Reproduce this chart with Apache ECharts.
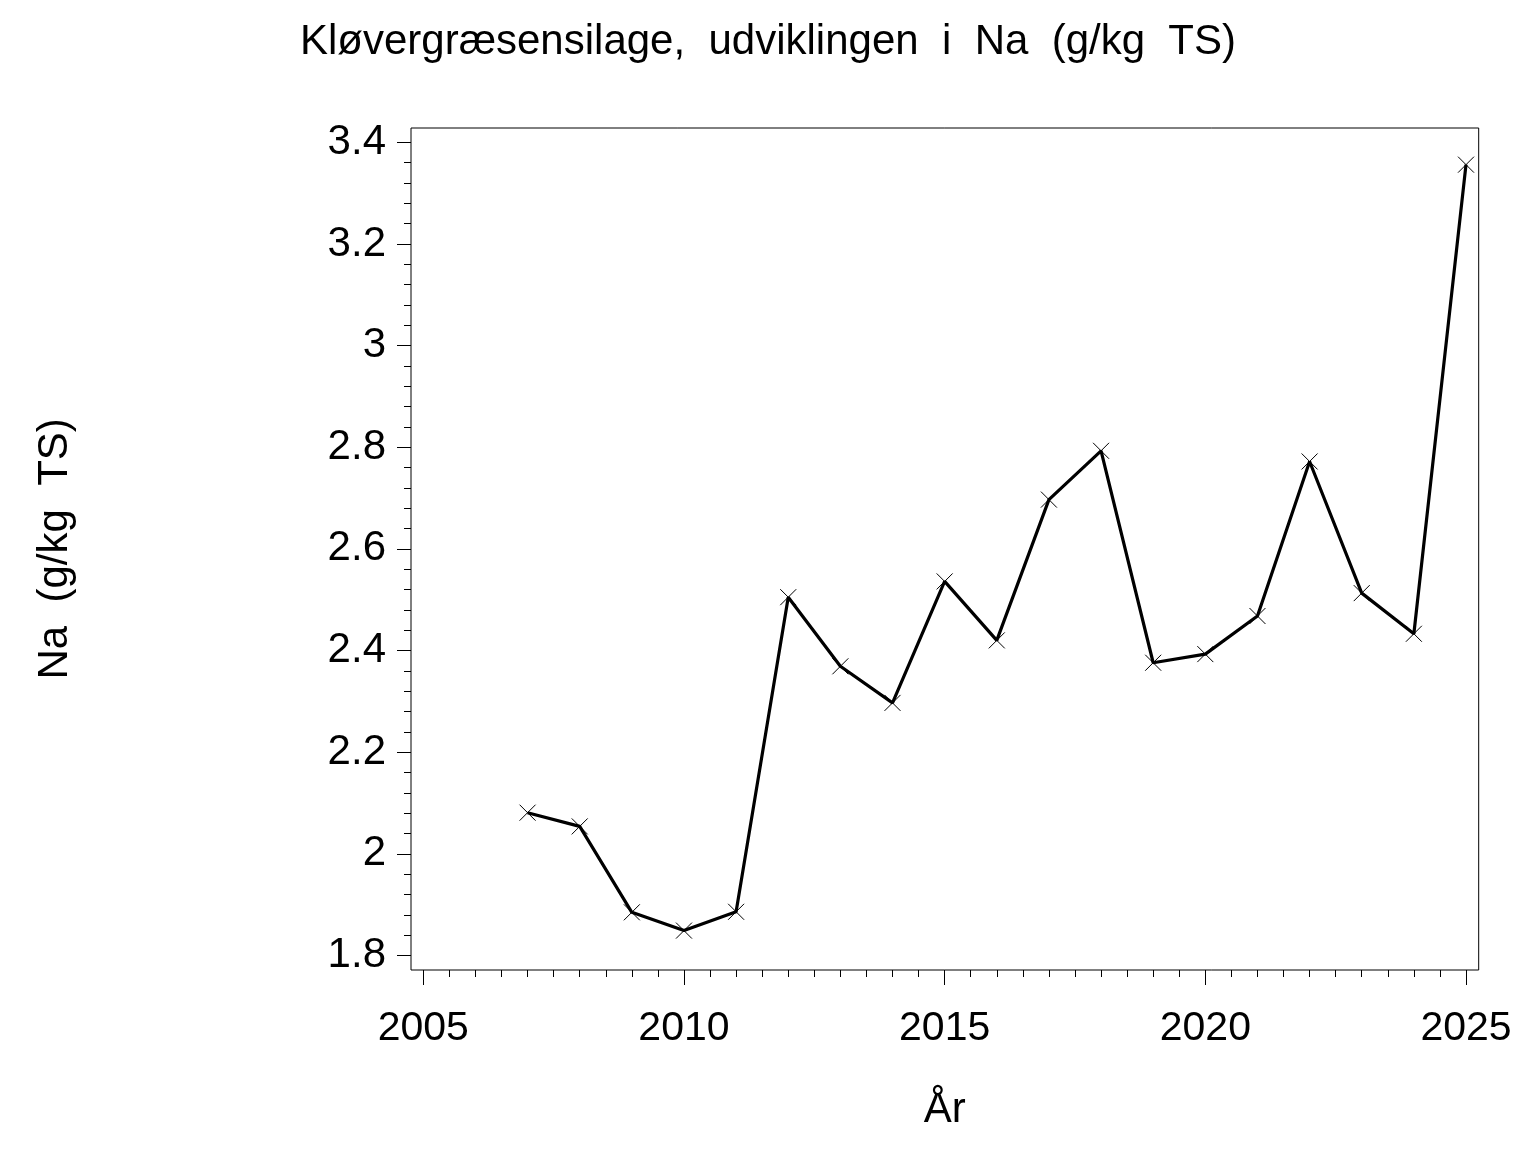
<!DOCTYPE html>
<html>
<head>
<meta charset="utf-8">
<script src="https://cdn.jsdelivr.net/npm/echarts@6/dist/echarts.min.js"></script>
<style>
html,body{margin:0;padding:0;background:#fff;}
#chart{width:1536px;height:1152px;}
</style>
</head>
<body>
<div id="chart"></div>
<script>
// ---- data ----
var years = [2007, 2008, 2009, 2010, 2011, 2012, 2013, 2014, 2015, 2016, 2017, 2018, 2019, 2020, 2021, 2022, 2023, 2024, 2025];
var naValues = [2.081, 2.054, 1.885, 1.849, 1.886, 2.505, 2.369, 2.297, 2.536, 2.420, 2.697, 2.793, 2.376, 2.393, 2.468, 2.772, 2.513, 2.433, 3.356];
var xTicks = [2005, 2010, 2015, 2020, 2025];
var yTicks = [1.8, 2.0, 2.2, 2.4, 2.6, 2.8, 3.0, 3.2, 3.4];
var titleText = 'Kløvergræsensilage,  udviklingen  i  Na  (g/kg  TS)';
var yName = 'Na  (g/kg  TS)';
var xName = 'År';

var FONT = '"Liberation Sans", Arial, Helvetica, sans-serif';
var chart = echarts.init(document.getElementById('chart'), null, {renderer: 'canvas'});

var pts = years.map(function (y, i) { return [y, naValues[i]]; });

var option = {
  animation: false,
  backgroundColor: '#fff',
  title: {
    text: titleText,
    left: 'center',
    top: 16,
    textStyle: {fontFamily: FONT, fontSize: 42, fontWeight: 'normal', color: '#000'}
  },
  grid: [
    {left: 411, right: 57.3, top: 128, bottom: 182, show: true, borderColor: '#000', borderWidth: 1, backgroundColor: 'transparent'},
    {left: 423.3, right: 70, top: 142.3, bottom: 196.5}
  ],
  xAxis: [
    {gridIndex: 0, type: 'value', show: false, min: 0, max: 1},
    {
      gridIndex: 1, type: 'value',
      min: xTicks[0], max: xTicks[xTicks.length - 1], interval: xTicks[1] - xTicks[0],
      offset: 14.5,
      name: xName, nameLocation: 'middle', nameGap: 119,
      nameTextStyle: {fontFamily: FONT, fontSize: 42, color: '#000', verticalAlign: 'top'},
      axisLine: {show: false},
      axisTick: {show: true, length: 15, lineStyle: {color: '#000', width: 1}},
      minorTick: {show: true, splitNumber: 10, length: 7, lineStyle: {color: '#000', width: 1}},
      splitLine: {show: false},
      axisLabel: {fontFamily: FONT, fontSize: 41, color: '#000', margin: 38,
        formatter: function (v) { return String(Math.round(v)); }}
    }
  ],
  yAxis: [
    {gridIndex: 0, type: 'value', show: false, min: 0, max: 1},
    {
      gridIndex: 1, type: 'value',
      min: yTicks[0], max: yTicks[yTicks.length - 1], interval: 0.2,
      offset: 12.3,
      name: yName, nameLocation: 'middle', nameGap: 335, nameRotate: 90,
      nameTextStyle: {fontFamily: FONT, fontSize: 42, color: '#000'},
      axisLine: {show: false},
      axisTick: {show: true, length: 14, lineStyle: {color: '#000', width: 1}},
      minorTick: {show: true, splitNumber: 5, length: 7, lineStyle: {color: '#000', width: 1}},
      splitLine: {show: false},
      axisLabel: {fontFamily: FONT, fontSize: 42, color: '#000', margin: 25,
        formatter: function (v) { return String(+v.toFixed(1)); }}
    }
  ],
  series: [
    {
      type: 'line',
      xAxisIndex: 1, yAxisIndex: 1,
      data: pts,
      symbol: 'path://M0 0L10 10M10 0L0 10',
      symbolSize: 16,
      showSymbol: true,
      itemStyle: {color: 'transparent', borderColor: '#000', borderWidth: 1},
      lineStyle: {color: '#000', width: 3.2},
      emphasis: {disabled: true},
      silent: true
    }
  ]
};
chart.setOption(option);
</script>
</body>
</html>
